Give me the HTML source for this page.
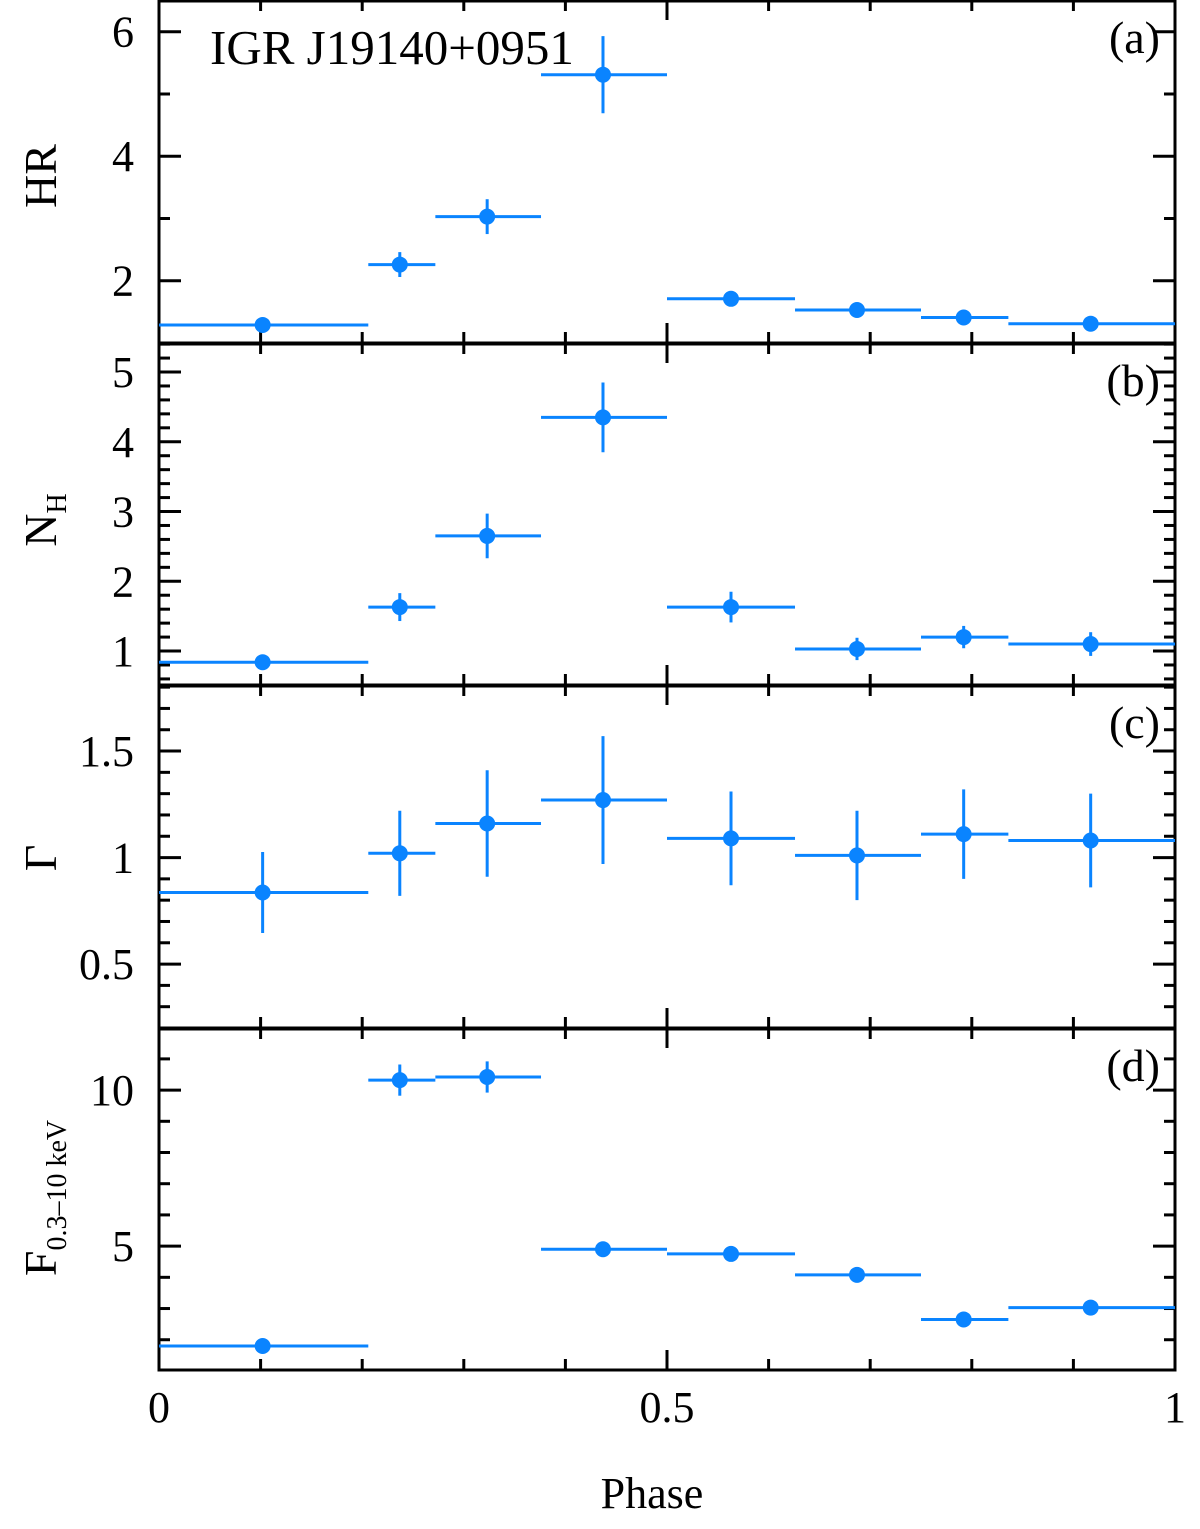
<!DOCTYPE html>
<html><head><meta charset="utf-8"><style>
body{margin:0;background:#fff}
svg text{font-family:"Liberation Serif",serif;fill:#000}
</style></head><body>
<svg id="chart" width="1200" height="1524" xmlns="http://www.w3.org/2000/svg"></svg>
<script>
const binLo = [0, 0.206, 0.272, 0.376, 0.5, 0.626, 0.75, 0.836];
const binHi = [0.206, 0.272, 0.376, 0.5, 0.626, 0.75, 0.836, 1.0];
const binCenter = [0.102, 0.237, 0.323, 0.437, 0.563, 0.687, 0.792, 0.917];
const hrValues = [1.29, 2.26, 3.03, 5.31, 1.71, 1.53, 1.41, 1.31];
const hrErrors = [0.05, 0.2, 0.28, 0.62, 0.12, 0.06, 0.06, 0.05];
const nhValues = [0.84, 1.63, 2.65, 4.35, 1.63, 1.03, 1.2, 1.1];
const nhErrors = [0.08, 0.2, 0.32, 0.5, 0.22, 0.16, 0.16, 0.17];
const gammaValues = [0.836, 1.02, 1.16, 1.27, 1.09, 1.01, 1.11, 1.08];
const gammaErrors = [0.19, 0.2, 0.25, 0.3, 0.22, 0.21, 0.21, 0.22];
const fluxValues = [1.8, 10.32, 10.42, 4.9, 4.75, 4.08, 2.65, 3.03];
const fluxErrors = [0.1, 0.5, 0.5, 0.2, 0.1, 0.1, 0.1, 0.1];
const xTickLabels = ["0", "0.5", "1"];
const hrTickLabels = ["2", "4", "6"];
const nhTickLabels = ["1", "2", "3", "4", "5"];
const gammaTickLabels = ["0.5", "1", "1.5"];
const fluxTickLabels = ["5", "10"];

const NS = "http://www.w3.org/2000/svg";
const svg = document.getElementById('chart');
const X0 = 159, X1 = 1175;
const xs = v => X0 + v * (X1 - X0);
function el(tag, attrs, parent) {
  const e = document.createElementNS(NS, tag);
  for (const k in attrs) e.setAttribute(k, attrs[k]);
  (parent || svg).appendChild(e);
  return e;
}
const BLUE = "#0a84ff";
const panels = [
  {id: 'hr', top: 0, bot: 343, min: 1.0, max: 6.51, vals: hrValues, errs: hrErrors, ticks: hrTickLabels, minor: 1, major: 2, tag: '(a)'},
  {id: 'nh', top: 343, bot: 685, min: 0.513, max: 5.416, vals: nhValues, errs: nhErrors, ticks: nhTickLabels, minor: 0.2, major: 1, tag: '(b)'},
  {id: 'gamma', top: 685, bot: 1028, min: 0.2, max: 1.81, vals: gammaValues, errs: gammaErrors, ticks: gammaTickLabels, minor: 0.1, major: 0.5, tag: '(c)'},
  {id: 'flux', top: 1028, bot: 1370, min: 1.03, max: 11.99, vals: fluxValues, errs: fluxErrors, ticks: fluxTickLabels, minor: 1, major: 5, tag: '(d)'}
];
panels.forEach(p => {
  const g = el('g', {});
  
  
  const ys = v => p.bot - (v - p.min) / (p.max - p.min) * (p.bot - p.top);
  const fr = el('rect', {x: X0, y: p.top + 1, width: X1 - X0, height: p.bot - p.top - 1, fill: 'none', stroke: '#000', 'stroke-width': 3}, g);
  
  
  for (let i = 1; i < 10; i++) {
    const x = xs(i / 10), L = (i === 5) ? 20 : 11;
    el('line', {x1: x, x2: x, y1: p.bot, y2: p.bot - L, stroke: '#000', 'stroke-width': 3}, g);
    el('line', {x1: x, x2: x, y1: p.top, y2: p.top + L, stroke: '#000', 'stroke-width': 3}, g);
  }
  const start = Math.ceil(p.min / p.minor - 1e-6);
  for (let k = start; k * p.minor <= p.max + 1e-9; k++) {
    const v = k * p.minor;
    const isMaj = Math.abs(v / p.major - Math.round(v / p.major)) < 1e-6;
    const y = ys(v), L = isMaj ? 22 : 11;
    el('line', {x1: X0, x2: X0 + L, y1: y, y2: y, stroke: '#000', 'stroke-width': 3}, g);
    el('line', {x1: X1, x2: X1 - L, y1: y, y2: y, stroke: '#000', 'stroke-width': 3}, g);
  }
  p.ticks.forEach(t => {
    const tx = el('text', {x: 134, y: ys(parseFloat(t)) + 15, 'font-size': 44, 'text-anchor': 'end'}, g);
    tx.textContent = t;
    
    
  });
  const tg = el('text', {x: 1160, y: p.top + 53, 'font-size': 46, 'text-anchor': 'end'}, g);
  tg.textContent = p.tag;
  
  
  p.vals.forEach((v, i) => {
    const pg = el('g', {}, g);
    
    
    el('line', {x1: xs(binLo[i]), x2: xs(binHi[i]), y1: ys(v), y2: ys(v), stroke: BLUE, 'stroke-width': 3}, pg);
    el('line', {x1: xs(binCenter[i]), x2: xs(binCenter[i]), y1: ys(v - p.errs[i]), y2: ys(v + p.errs[i]), stroke: BLUE, 'stroke-width': 3}, pg);
    el('circle', {cx: xs(binCenter[i]), cy: ys(v), r: 8, fill: BLUE}, pg);
  });
});
xTickLabels.forEach(t => {
  const tx = el('text', {x: xs(parseFloat(t)), y: 1422, 'font-size': 44, 'text-anchor': 'middle'});
  tx.textContent = t;
  
  
});
function lbl(html, name, cx, cy) {
  const t = el('text', {x: 0, y: 0, 'font-size': 46, 'text-anchor': 'middle', transform: `translate(${cx},${cy}) rotate(-90)`});
  t.innerHTML = html;
  
  
}
lbl('HR', 'y-axis-title-hr', 56, 176);
lbl('N<tspan font-size="28" dy="10">H</tspan>', 'y-axis-title-nh', 56, 520);
lbl('Γ', 'y-axis-title-gamma', 56, 858);
lbl('F<tspan font-size="28" dy="10">0.3–10 keV</tspan>', 'y-axis-title-flux', 56, 1198);
const px = el('text', {x: 652, y: 1508, 'font-size': 44, 'text-anchor': 'middle'});
px.textContent = 'Phase';


const tt = el('text', {x: 210, y: 64, 'font-size': 49});
tt.textContent = 'IGR J19140+0951';


</script>
</body></html>
